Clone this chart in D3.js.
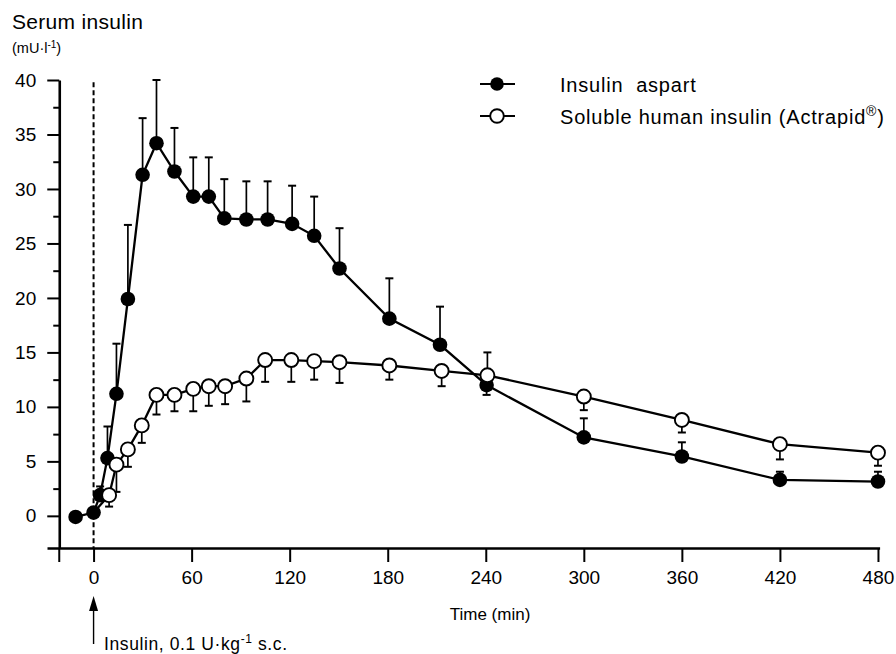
<!DOCTYPE html>
<html>
<head>
<meta charset="utf-8">
<script src="https://cdn.jsdelivr.net/npm/d3@7"></script>
<style>
  html, body { margin: 0; padding: 0; background: #fff; }
  svg { display: block; font-family: "Liberation Sans", Arial, Helvetica, sans-serif; }
</style>
</head>
<body>
<svg id="chart" width="896" height="654"></svg>
<script>
// ---- data ----
const aspartTime = [-11, 0, 4, 8.5, 14, 21, 30, 38.5, 49.5, 61, 70.5, 80, 93.5, 106.5, 121.5, 135, 150.5, 181, 212, 240.5, 300, 360, 420, 480];
const aspartMean = [-0.1, 0.3, 1.9, 5.3, 11.2, 19.9, 31.3, 34.2, 31.6, 29.3, 29.3, 27.3, 27.2, 27.2, 26.8, 25.7, 22.7, 18.1, 15.7, 12.0, 7.2, 5.45, 3.3, 3.15];
const aspartSem  = [0, 0, 0.8, 2.9, 4.6, 6.8, 5.2, 5.8, 4.0, 3.6, 3.6, 3.6, 3.5, 3.5, 3.5, 3.6, 3.7, 3.7, 3.5, 0.9, 1.75, 1.3, 0.75, 0.9];
const aspartDir  = [1, 1, 1, 1, 1, 1, 1, 1, 1, 1, 1, 1, 1, 1, 1, 1, 1, 1, 1, -1, 1, 1, 1, 1];

const actrapidTime = [0, 9.5, 14, 21, 29.5, 38.5, 49.5, 61, 70.5, 80.5, 93.5, 105, 121, 135, 150.5, 181, 213, 241, 300, 360, 420, 480];
const actrapidMean = [0.3, 1.9, 4.7, 6.1, 8.3, 11.1, 11.1, 11.65, 11.9, 11.9, 12.6, 14.3, 14.3, 14.2, 14.1, 13.8, 13.3, 12.9, 10.95, 8.8, 6.58, 5.8];
const actrapidSem  = [0, 1.05, 2.5, 1.6, 1.6, 1.8, 1.5, 2.05, 1.8, 1.65, 2.1, 2.0, 2.0, 1.7, 1.9, 1.3, 1.4, 2.1, 1.25, 1.15, 1.4, 1.2];
const actrapidDir  = [-1, -1, -1, -1, -1, -1, -1, -1, -1, -1, -1, -1, -1, -1, -1, -1, -1, 1, -1, -1, -1, -1];

const xTicks = [0, 60, 120, 180, 240, 300, 360, 420, 480];
const yTicks = [0, 5, 10, 15, 20, 25, 30, 35, 40];
const yMinorTicks = [2.5, 7.5, 12.5, 17.5, 22.5, 27.5, 32.5, 37.5];

// ---- scales ----
const svg = d3.select("#chart");
const x = d3.scaleLinear().domain([-28.5, 481]).range([47, 879.6]);
const y = d3.scaleLinear().domain([-2.95, 40]).range([548, 80]);
const yAxisT = -21;   // y axis position (min)

const aspart = aspartTime.map((t, i) => ({t, v: aspartMean[i], e: aspartSem[i], d: aspartDir[i]}));
const actrapid = actrapidTime.map((t, i) => ({t, v: actrapidMean[i], e: actrapidSem[i], d: actrapidDir[i]}));

const FONT = "Liberation Sans, Arial, sans-serif";

// ---- axes ----
const xAxis = d3.axisBottom(x).tickValues(xTicks).tickSize(14).tickSizeOuter(0).tickPadding(9);
const gx = svg.append("g").attr("transform", `translate(0,${y(-2.95)})`).call(xAxis);
gx.select(".domain").attr("stroke-width", 2.6);
gx.selectAll(".tick line").attr("stroke-width", 2);
gx.selectAll(".tick text").attr("font-size", 19).attr("fill", "#000").attr("font-family", FONT);

const yAxis = d3.axisLeft(y).tickValues(yTicks).tickSize(12).tickSizeOuter(0).tickPadding(11);
const gy = svg.append("g").attr("transform", `translate(${x(yAxisT)},0)`).call(yAxis);
gy.select(".domain").attr("stroke-width", 2.6);
gy.selectAll(".tick line").attr("stroke-width", 2);
gy.selectAll(".tick text").attr("font-size", 19).attr("fill", "#000").attr("font-family", FONT);

const yMinor = d3.axisLeft(y).tickValues(yMinorTicks).tickSize(6).tickSizeOuter(0).tickFormat("");
const gym = svg.append("g").attr("transform", `translate(${x(yAxisT)},0)`).call(yMinor);
gym.select(".domain").remove();
gym.selectAll(".tick line").attr("stroke-width", 2);

// y axis extension below the x axis
svg.append("line")
  .attr("x1", x(yAxisT)).attr("x2", x(yAxisT))
  .attr("y1", y(-2.95)).attr("y2", y(-2.95) + 14)
  .attr("stroke", "#000").attr("stroke-width", 2);

// dashed injection line at t = 0
svg.append("line")
  .attr("x1", x(0)).attr("x2", x(0))
  .attr("y1", y(39.8)).attr("y2", y(-2.95))
  .attr("stroke", "#000").attr("stroke-width", 2).attr("stroke-dasharray", "5,3");

// ---- error bars ----
function errorBars(data, cls) {
  const g = svg.append("g").attr("class", cls);
  data.filter(d => d.e > 0).forEach(d => {
    const x0 = x(d.t), y0 = y(d.v), y1 = y(d.v + d.d * d.e);
    g.append("line").attr("x1", x0).attr("x2", x0).attr("y1", y0).attr("y2", y1)
      .attr("stroke", "#000").attr("stroke-width", 1.7);
    g.append("line").attr("x1", x0 - 4).attr("x2", x0 + 4).attr("y1", y1).attr("y2", y1)
      .attr("stroke", "#000").attr("stroke-width", 2);
  });
}
errorBars(aspart, "err-aspart");
errorBars(actrapid, "err-actrapid");

// ---- lines ----
const line = d3.line().x(d => x(d.t)).y(d => y(d.v));
svg.append("path").datum(actrapid).attr("d", line)
  .attr("fill", "none").attr("stroke", "#000").attr("stroke-width", 2.3);
svg.append("path").datum(aspart).attr("d", line)
  .attr("fill", "none").attr("stroke", "#000").attr("stroke-width", 2.3);

// ---- markers ----
svg.append("g").selectAll("circle").data(aspart).join("circle")
  .attr("cx", d => x(d.t)).attr("cy", d => y(d.v)).attr("r", 7.3)
  .attr("fill", "#000");
svg.append("g").selectAll("circle").data(actrapid.filter(d => d.t > 0)).join("circle")
  .attr("cx", d => x(d.t)).attr("cy", d => y(d.v)).attr("r", 7)
  .attr("fill", "#fff").attr("stroke", "#000").attr("stroke-width", 1.9);

// ---- titles ----
svg.append("text").attr("x", 12).attr("y", 29).attr("font-size", 21).attr("letter-spacing", 0.3).text("Serum insulin");
const unit = svg.append("text").attr("x", 12).attr("y", 53).attr("font-size", 14.5);
unit.append("tspan").text("(mU·l");
unit.append("tspan").attr("dy", -5).attr("font-size", 10).text("-1");
unit.append("tspan").attr("dy", 5).text(")");

svg.append("text").attr("x", 490).attr("y", 620).attr("text-anchor", "middle")
  .attr("font-size", 17).text("Time (min)");

// injection arrow & annotation
svg.append("line").attr("x1", x(0)).attr("x2", x(0)).attr("y1", 644).attr("y2", 608)
  .attr("stroke", "#000").attr("stroke-width", 1.4);
svg.append("path")
  .attr("d", `M${x(0)},596 L${x(0) - 4.5},611 L${x(0) + 4.5},611 Z`).attr("fill", "#000");
const ann = svg.append("text").attr("x", 104).attr("y", 650).attr("font-size", 17.5).attr("letter-spacing", 0.6);
ann.append("tspan").text("Insulin, 0.1 U·kg");
ann.append("tspan").attr("dy", -7).attr("font-size", 12).text("-1");
ann.append("tspan").attr("dy", 7).text(" s.c.");

// ---- legend ----
const legend = svg.append("g");
legend.append("line").attr("x1", 480).attr("x2", 515).attr("y1", 84).attr("y2", 84)
  .attr("stroke", "#000").attr("stroke-width", 2);
legend.append("circle").attr("cx", 497).attr("cy", 84).attr("r", 6.8).attr("fill", "#000");
legend.append("text").attr("x", 560).attr("y", 92).attr("font-size", 20).attr("letter-spacing", 0.8).text("Insulin\u00a0 aspart");

legend.append("line").attr("x1", 480).attr("x2", 515).attr("y1", 116).attr("y2", 116)
  .attr("stroke", "#000").attr("stroke-width", 2);
legend.append("circle").attr("cx", 497).attr("cy", 116).attr("r", 6.8)
  .attr("fill", "#fff").attr("stroke", "#000").attr("stroke-width", 1.9);
const lt = legend.append("text").attr("x", 560).attr("y", 124).attr("font-size", 20).attr("letter-spacing", 0.8);
lt.append("tspan").text("Soluble human insulin (Actrapid");
lt.append("tspan").attr("dy", -8).attr("font-size", 14).text("®");
lt.append("tspan").attr("dy", 8).text(")");
</script>
</body>
</html>
